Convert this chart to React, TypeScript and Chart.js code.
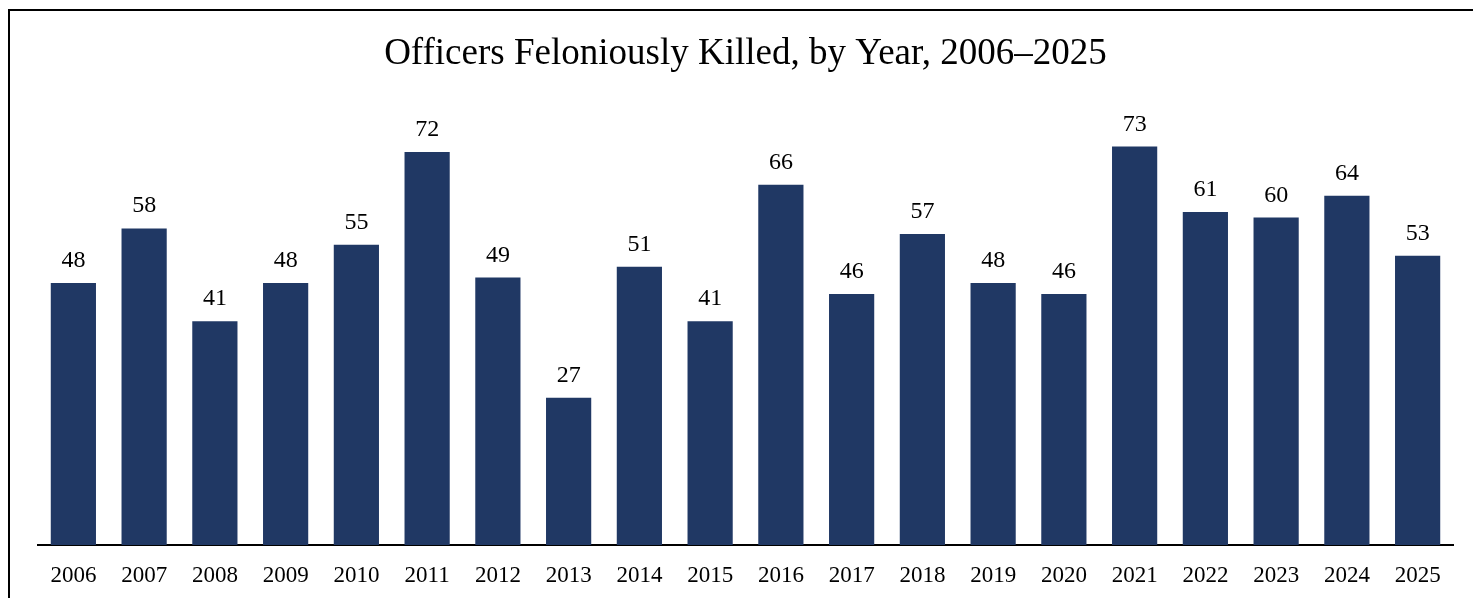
import React, { useEffect, useRef } from "react";
import { Chart, registerables } from "chart.js";

Chart.register(...registerables);

const TITLE = "Officers Feloniously Killed, by Year, 2006–2025";
const years = ["2006","2007","2008","2009","2010","2011","2012","2013","2014","2015","2016","2017","2018","2019","2020","2021","2022","2023","2024","2025"];
const killed = [48,58,41,48,55,72,49,27,51,41,66,46,57,48,46,73,61,60,64,53];

const FONT = "'Liberation Serif', 'Times New Roman', serif";

const valueLabels = {
  id: "valueLabels",
  afterDatasetsDraw(chart: any) {
    const ctx = chart.ctx;
    const meta = chart.getDatasetMeta(0);
    ctx.save();
    ctx.font = `24px ${FONT}`;
    ctx.fillStyle = "#000";
    ctx.textAlign = "center";
    ctx.textBaseline = "alphabetic";
    meta.data.forEach((bar: any, i: number) => {
      ctx.fillText(String(chart.data.datasets[0].data[i]), bar.x, bar.y - 16);
    });
    ctx.restore();
  },
};

export default function App() {
  const ref = useRef<HTMLCanvasElement | null>(null);
  useEffect(() => {
    if (!ref.current) return;
    const chart = new Chart(ref.current, {
      type: "bar",
      data: {
        labels: years,
        datasets: [
          {
            data: killed,
            backgroundColor: "#203864",
            barPercentage: 0.9,
            categoryPercentage: 0.71,
          },
        ],
      },
      options: {
        animation: false,
        responsive: false,
        maintainAspectRatio: false,
        layout: { padding: { left: 38, right: 20, top: 0, bottom: 0 } },
        plugins: {
          legend: { display: false },
          tooltip: { enabled: false },
          title: {
            display: true,
            text: TITLE,
            color: "#000",
            font: { family: FONT, size: 37, weight: "normal" },
            padding: { top: 32, bottom: 32 },
          },
        },
        scales: {
          x: {
            grid: { display: false, drawTicks: false },
            border: { display: true, color: "#000", width: 2 },
            ticks: {
              color: "#000",
              font: { family: FONT, size: 23 },
              padding: 17,
              maxRotation: 0,
              autoSkip: false,
            },
            afterFit(scale: any) {
              scale.height = 53;
            },
          },
          y: {
            display: false,
            min: 0,
            max: 80,
          },
        },
      },
      plugins: [valueLabels],
    });
    return () => chart.destroy();
  }, []);

  return (
    <div style={{ position: "fixed", left: 0, top: 0, width: 1473, height: 598, overflow: "hidden", background: "#fff" }}>
      <div
        style={{
          position: "absolute",
          left: 8,
          top: 9,
          width: 1520,
          height: 700,
          border: "2px solid #000",
          boxSizing: "border-box",
        }}
      />
      <canvas
        ref={ref}
        width={1473}
        height={598}
        style={{ position: "absolute", left: 0, top: 0, width: 1473, height: 598 }}
      />
    </div>
  );
}
